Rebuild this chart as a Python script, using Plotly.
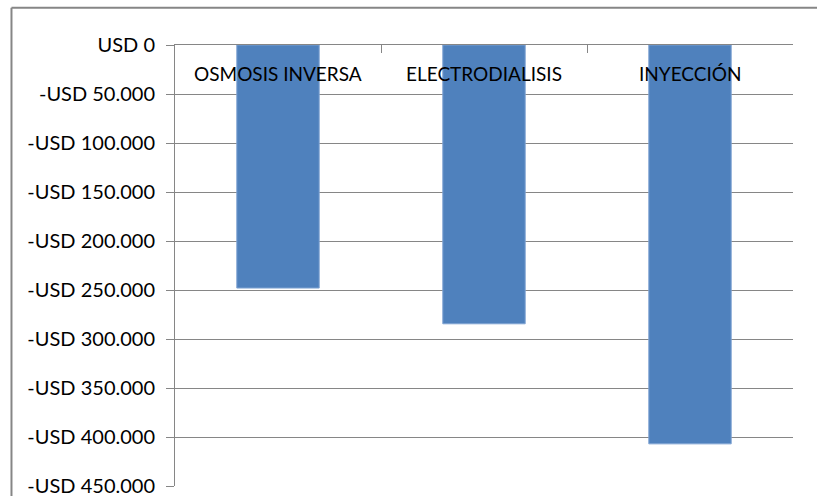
import plotly.graph_objects as go

categories = ["OSMOSIS INVERSA", "ELECTRODIALISIS", "INYECCIÓN"]
values = [-248000, -284500, -407000]
tick_vals = [0, -50000, -100000, -150000, -200000, -250000, -300000, -350000, -400000, -450000]
tick_text = ["USD 0", "-USD 50.000", "-USD 100.000", "-USD 150.000", "-USD 200.000",
             "-USD 250.000", "-USD 300.000", "-USD 350.000", "-USD 400.000", "-USD 450.000"]

fig = go.Figure(go.Bar(
    x=categories, y=values,
    marker=dict(color="#4F81BD", line=dict(color="#7FA3D3", width=1)),
))

annotations = [
    dict(x=c, y=0, xref="x", yref="y", text=c, showarrow=False,
         yanchor="middle", yshift=-28, font=dict(family="Lato", size=19, color="#000000"))
    for c in categories
]

border = dict(color="#868686", width=2)
fig.update_layout(
    width=817, height=496,
    margin=dict(l=175, r=24, t=45, b=10, autoexpand=False),
    paper_bgcolor="white", plot_bgcolor="white",
    font=dict(family="Lato", size=20, color="#000000"),
    bargap=0.6,
    showlegend=False,
    annotations=annotations,
    shapes=[
        dict(type="line", xref="paper", yref="paper",
             x0=-0.2646, x1=-0.2646, y0=-0.2, y1=1.0843, line=border, layer="below"),
        dict(type="line", xref="paper", yref="paper",
             x0=-0.2646, x1=1.2, y0=1.0843, y1=1.0843, line=border, layer="below"),
    ],
)

fig.update_xaxes(
    side="top", showticklabels=False, automargin=False,
    showline=True, linecolor="#868686", linewidth=1,
    ticks="inside", ticklen=8, tickcolor="#868686", tickson="boundaries",
    showgrid=False, mirror=False,
)

fig.update_yaxes(
    range=[-450000, 0], tickvals=tick_vals, ticktext=tick_text, automargin=False,
    showline=True, linecolor="#868686", linewidth=1,
    ticks="outside", ticklen=8, tickcolor="#868686",
    showgrid=True, gridcolor="#868686", gridwidth=1,
    zeroline=False, ticklabelstandoff=7, ticklabeloverflow="allow",
    tickfont=dict(size=20),
)

fig.write_html(
    "out.html",
    config={"displayModeBar": False, "staticPlot": True},
    post_script=(
        "var gd=document.getElementById('{plot_id}');"
        "gd.style.position='fixed';gd.style.left='0px';gd.style.top='0px';"
        "document.body.style.margin='0';"
        "document.documentElement.style.overflow='hidden';"
    ),
)
